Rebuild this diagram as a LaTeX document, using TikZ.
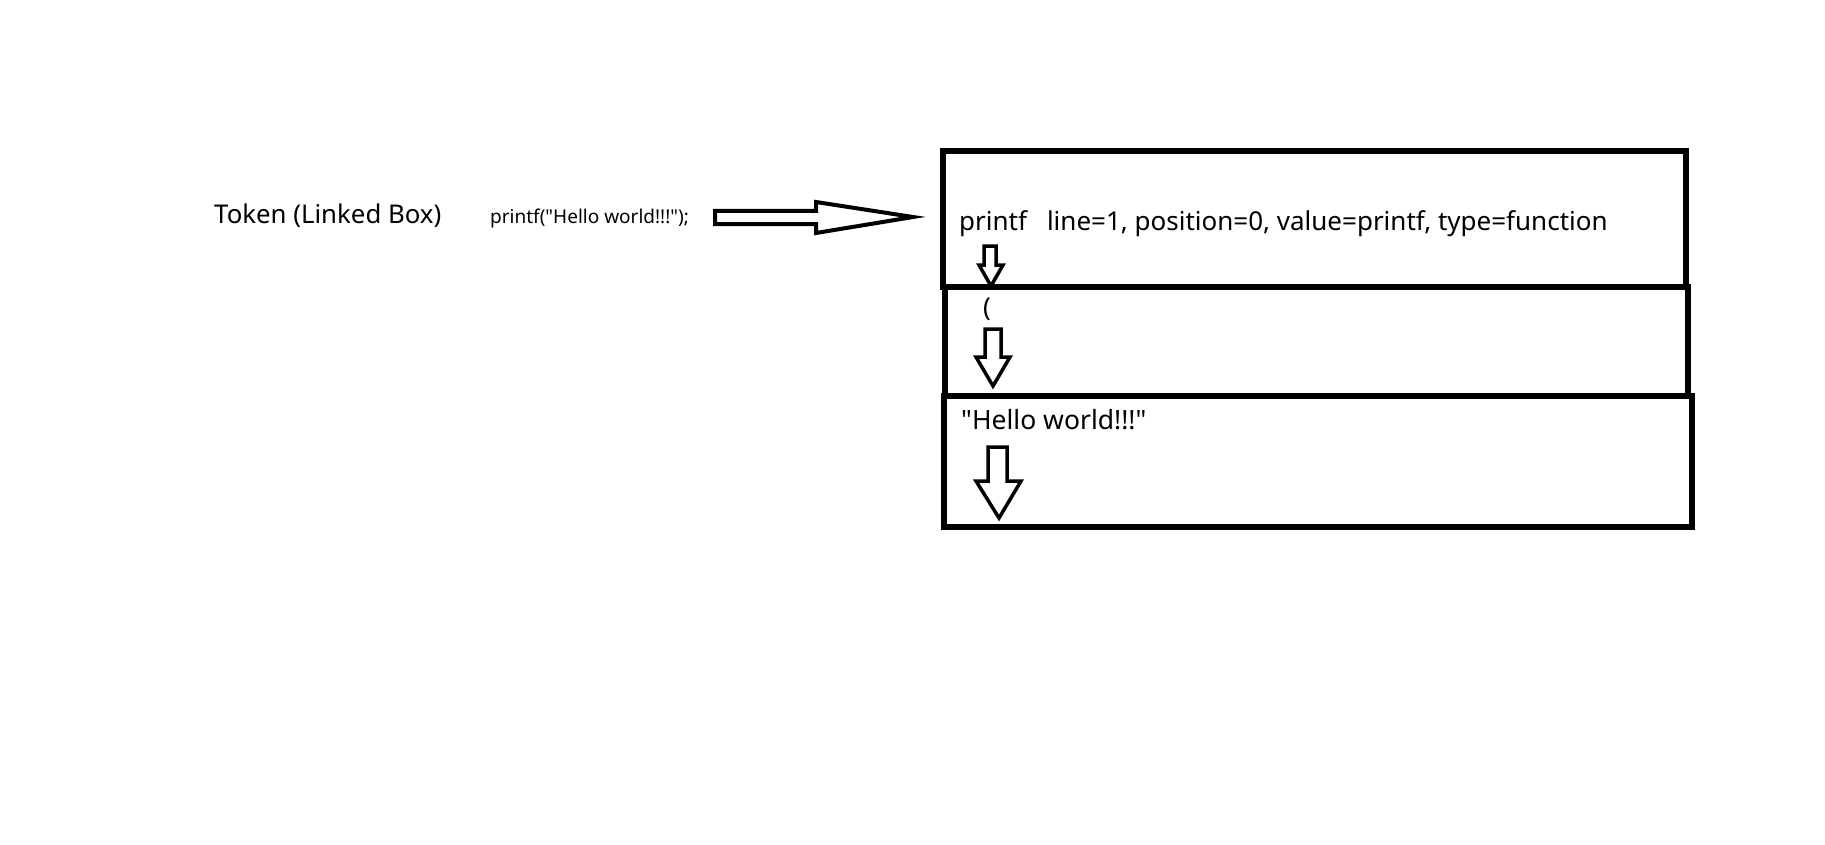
\documentclass[tikz,border=0pt]{standalone}
\usepackage{fontspec}
\setmainfont{Noto Sans}[Ligatures=TeXOff]
\begin{document}
\begin{tikzpicture}[x=1pt,y=-1pt,
  tokbox/.style={draw=black,line width=5.5pt,inner sep=0pt},
  hollow/.style={draw=black,line width=4pt,fill=white,line join=miter},
  lbl/.style={inner sep=0pt,anchor=west,font=\fontsize{#1}{#1}\selectfont}]
\useasboundingbox (0,0) rectangle (1825,845);
% boxes
\node[tokbox,minimum width=743pt,minimum height=136pt] (b1) at (1314.5,219) {};
\node[tokbox,minimum width=743pt,minimum height=109pt] (b2) at (1316.5,341.5) {};
\node[tokbox,minimum width=748pt,minimum height=131pt] (b3) at (1318,461.5) {};
% labels
\node[lbl=25.8] (title) at (214,216) {Token (Linked Box)};
\node[lbl=19] (code) at (490,219) {printf("Hello world!!!");};
\node[lbl=26] (t1) at (959,224) {printf\hspace{20pt}line=1, position=0, value=printf, type=function};
\node[lbl=26] (t2) at (983,309) {(};
\node[lbl=26.5] (t3) at (961,420) {"Hello world!!!"};
% big arrow
\draw[hollow] (715,211) -- (816,211) -- (816,202) -- (913,217) -- (816,233) -- (816,224) -- (715,224) -- cycle;
% small arrows
\draw[hollow,line width=3.5pt] (984,246) -- (996,246) -- (996,265) -- (1003,265) -- (991,286) -- (979,265) -- (984,265) -- cycle;
\draw[hollow,line width=3.5pt] (985,329) -- (1001,329) -- (1001,357) -- (1010,357) -- (993,386) -- (976,357) -- (985,357) -- cycle;
\draw[hollow,line width=3.5pt] (988,447) -- (1007,447) -- (1007,481) -- (1021,481) -- (999,518) -- (976,481) -- (988,481) -- cycle;
\end{tikzpicture}
\end{document}
